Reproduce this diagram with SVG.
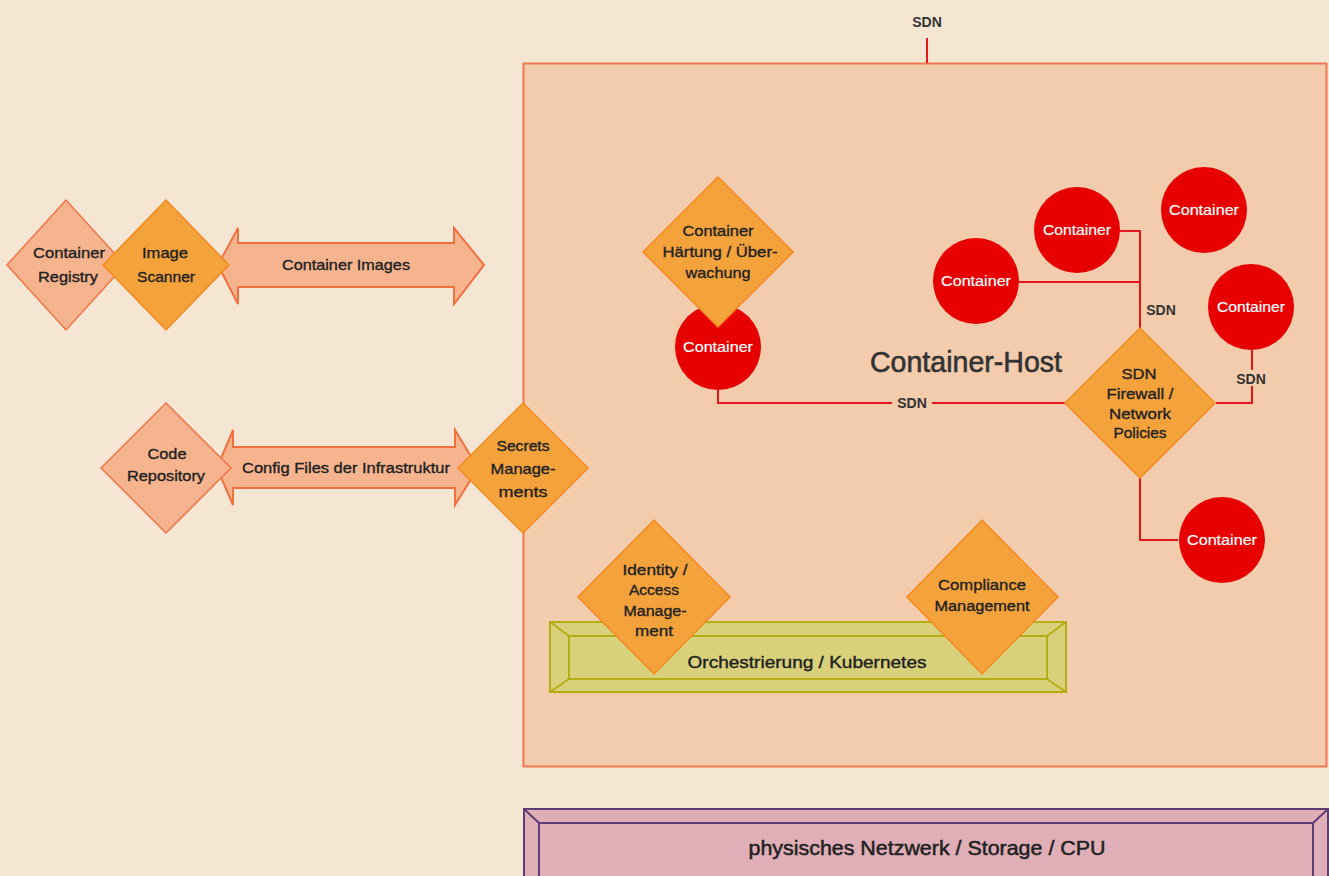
<svg xmlns="http://www.w3.org/2000/svg" width="1329" height="876" viewBox="0 0 1329 876">
<style>
text{font-family:"Liberation Sans",Arial,sans-serif;fill:#222;text-anchor:middle}
.t{font-size:15px;stroke:#222;stroke-width:0.35}
.w{font-size:15px;fill:#fff;stroke:#fff;stroke-width:0.2}
.sdn{font-size:14px;font-weight:bold;fill:#333}
.dio{fill:#f4a23c;stroke:#f28a20;stroke-width:1.5}
.dil{fill:#f5b48e;stroke:#f07548;stroke-width:1.5}
.arr{fill:#f5b48e;stroke:#f07040;stroke-width:2}
.c{fill:#e60000}
.ln{fill:none;stroke:#e8141e;stroke-width:2}
.gb{fill:#d8d07a;stroke:#b5ad14;stroke-width:2}
.pb{fill:#e0aeb6;stroke:#5e3d75;stroke-width:2}
</style>
<rect width="1329" height="876" fill="#f5e6d4"/>

<g id="container-host">
<rect x="523.5" y="63.5" width="803" height="703" fill="#f3cbad" stroke="#f07850" stroke-width="2"/>
<text x="966" y="372" font-size="29" textLength="192" lengthAdjust="spacingAndGlyphs" style="fill:#333;stroke:#333;stroke-width:0.6">Container-Host</text>
</g>

<g id="connectors">
<line x1="927" y1="38" x2="927" y2="63" class="ln"/>
<polyline points="1120,231 1140,231 1140,328" class="ln"/>
<polyline points="1018,282 1140,282" class="ln"/>
<polyline points="1216,403 1252,403 1252,350" class="ln"/>
<polyline points="1140,478 1140,540 1178,540" class="ln"/>
<polyline points="718,390 718,403 1065,403" class="ln"/>
<rect x="892" y="395" width="40" height="16" fill="#f3cbad"/>
<rect x="1234" y="370" width="36" height="16" fill="#f3cbad"/>
<text x="927" y="27" class="sdn">SDN</text>
<text x="912" y="408" class="sdn">SDN</text>
<text x="1161" y="315" class="sdn">SDN</text>
<text x="1251" y="384" class="sdn">SDN</text>
</g>

<g id="container-images-arrow">
<polygon points="218,265 238,228 238,243 454,243 454,228 484,265 454,304 454,287 238,287 238,304" class="arr"/>
<text x="346" y="270" class="t" textLength="128" lengthAdjust="spacingAndGlyphs">Container Images</text>
</g>

<g id="config-arrow">
<polygon points="217,468 233,430 233,447 455,447 455,430 478,468 455,505 455,488 233,488 233,505" class="arr"/>
<text x="346" y="473" class="t" textLength="208" lengthAdjust="spacingAndGlyphs">Config Files der Infrastruktur</text>
</g>

<g id="container-registry">
<polygon points="7,265 66,200 125,265 66,330" class="dil"/>
<text x="69" y="258" class="t" textLength="72" lengthAdjust="spacingAndGlyphs">Container</text>
<text x="68" y="282" class="t" textLength="60" lengthAdjust="spacingAndGlyphs">Registry</text>
</g>

<g id="image-scanner">
<polygon points="103,265 166,200 229,265 166,330" class="dio"/>
<text x="165" y="258" class="t" textLength="46" lengthAdjust="spacingAndGlyphs">Image</text>
<text x="166" y="282" class="t" textLength="58" lengthAdjust="spacingAndGlyphs">Scanner</text>
</g>

<g id="code-repository">
<polygon points="101,468 166,403 231,468 166,533" class="dil"/>
<text x="167" y="459" class="t" textLength="39" lengthAdjust="spacingAndGlyphs">Code</text>
<text x="166" y="481" class="t" textLength="78" lengthAdjust="spacingAndGlyphs">Repository</text>
</g>

<g id="secrets-management">
<polygon points="458,468 523,403 588,468 523,533" class="dio"/>
<text x="523" y="451" class="t" textLength="53" lengthAdjust="spacingAndGlyphs">Secrets</text>
<text x="523" y="474" class="t" textLength="65" lengthAdjust="spacingAndGlyphs">Manage-</text>
<text x="523" y="497" class="t" textLength="49" lengthAdjust="spacingAndGlyphs">ments</text>
</g>

<g id="container-1">
<circle cx="718" cy="347" r="43" class="c"/>
<text x="718" y="352" class="w" textLength="70" lengthAdjust="spacingAndGlyphs">Container</text>
</g>

<g id="container-haertung">
<polygon points="643,252 718,177 793,252 718,327" class="dio"/>
<text x="718" y="236" class="t" textLength="71" lengthAdjust="spacingAndGlyphs">Container</text>
<text x="720" y="257" class="t" textLength="115" lengthAdjust="spacingAndGlyphs">Härtung / Über-</text>
<text x="718" y="278" class="t" textLength="65" lengthAdjust="spacingAndGlyphs">wachung</text>
</g>

<g id="container-2">
<circle cx="976" cy="281" r="43" class="c"/>
<text x="976" y="286" class="w" textLength="70" lengthAdjust="spacingAndGlyphs">Container</text>
</g>
<g id="container-3">
<circle cx="1077" cy="230" r="43" class="c"/>
<text x="1077" y="235" class="w" textLength="68" lengthAdjust="spacingAndGlyphs">Container</text>
</g>
<g id="container-4">
<circle cx="1204" cy="210" r="43" class="c"/>
<text x="1204" y="215" class="w" textLength="70" lengthAdjust="spacingAndGlyphs">Container</text>
</g>
<g id="container-5">
<circle cx="1251" cy="307" r="43" class="c"/>
<text x="1251" y="312" class="w" textLength="68" lengthAdjust="spacingAndGlyphs">Container</text>
</g>
<g id="container-6">
<circle cx="1222" cy="540" r="43" class="c"/>
<text x="1222" y="545" class="w" textLength="70" lengthAdjust="spacingAndGlyphs">Container</text>
</g>

<g id="sdn-firewall">
<polygon points="1065,403 1140,328 1215,403 1140,478" class="dio"/>
<text x="1139" y="379" class="t" textLength="35" lengthAdjust="spacingAndGlyphs">SDN</text>
<text x="1140" y="399" class="t" textLength="67" lengthAdjust="spacingAndGlyphs">Firewall /</text>
<text x="1140" y="419" class="t" textLength="62" lengthAdjust="spacingAndGlyphs">Network</text>
<text x="1140" y="438" class="t" textLength="53" lengthAdjust="spacingAndGlyphs">Policies</text>
</g>

<g id="orchestrierung">
<rect x="550" y="622" width="516" height="70" class="gb"/>
<rect x="569" y="636" width="478" height="43" class="gb"/>
<path d="M550,622 L569,636 M1066,622 L1047,636 M550,692 L569,679 M1066,692 L1047,679" stroke="#b5ad14" stroke-width="2" fill="none"/>
<text x="807" y="668" font-size="17" textLength="239" lengthAdjust="spacingAndGlyphs" style="stroke:#222;stroke-width:0.4">Orchestrierung / Kubernetes</text>
</g>

<g id="identity-access">
<polygon points="578,597 654,520 730,597 654,674" class="dio"/>
<text x="655" y="575" class="t" textLength="65" lengthAdjust="spacingAndGlyphs">Identity /</text>
<text x="654" y="595" class="t" textLength="50" lengthAdjust="spacingAndGlyphs">Access</text>
<text x="655" y="616" class="t" textLength="63" lengthAdjust="spacingAndGlyphs">Manage-</text>
<text x="654" y="636" class="t" textLength="38" lengthAdjust="spacingAndGlyphs">ment</text>
</g>

<g id="compliance">
<polygon points="907,597 982,520 1058,597 982,674" class="dio"/>
<text x="982" y="590" class="t" textLength="88" lengthAdjust="spacingAndGlyphs">Compliance</text>
<text x="982" y="611" class="t" textLength="95" lengthAdjust="spacingAndGlyphs">Management</text>
</g>

<g id="physical">
<rect x="524" y="809" width="804" height="80" class="pb"/>
<rect x="539" y="823" width="774" height="66" class="pb"/>
<path d="M524,809 L539,823 M1328,809 L1313,823" stroke="#5e3d75" stroke-width="2" fill="none"/>
<text x="927" y="855" font-size="20" textLength="357" lengthAdjust="spacingAndGlyphs" style="stroke:#222;stroke-width:0.5">physisches Netzwerk / Storage / CPU</text>
</g>
</svg>
